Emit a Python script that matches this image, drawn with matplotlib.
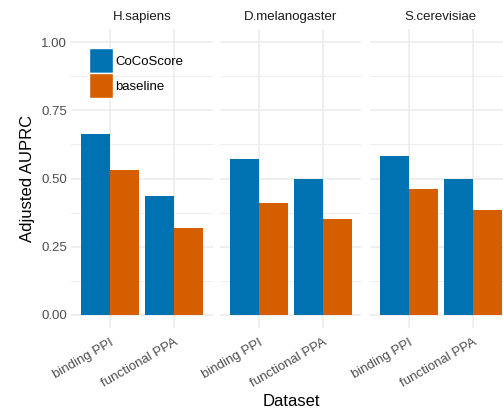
import matplotlib
matplotlib.use("Agg")
import matplotlib.pyplot as plt
import matplotlib.patches as mpatches
import numpy as np

plt.rcParams['font.family'] = ['Liberation Sans', 'DejaVu Sans']

species = ["H.sapiens", "D.melanogaster", "S.cerevisiae"]
datasets = ["binding PPI", "functional PPA"]
methods = ["CoCoScore", "baseline"]
cocoscore = [[0.665, 0.435], [0.570, 0.497], [0.581, 0.497]]
baseline = [[0.530, 0.320], [0.409, 0.350], [0.460, 0.383]]
colors = ["#0072B2", "#D55E00"]
yticks = [0.0, 0.25, 0.5, 0.75, 1.0]
yticklabels = ["0.00", "0.25", "0.50", "0.75", "1.00"]

W, H = 503, 412
fig = plt.figure(figsize=(W / 100, H / 100), dpi=100)

panel_left = [71, 220, 370]
panel_w = 141.5
top_px, bot_px = 28.7, 328.3

grid_c = "#EBEBEB"
axes = []
for i, sp in enumerate(species):
    ax = fig.add_axes([panel_left[i] / W, 1 - bot_px / H, panel_w / W, (bot_px - top_px) / H])
    axes.append(ax)
    x = np.arange(len(datasets))
    bw = 0.45
    ax.bar(x - bw / 2, cocoscore[i], width=bw, color=colors[0], zorder=3)
    ax.bar(x + bw / 2, baseline[i], width=bw, color=colors[1], zorder=3)
    ax.set_xlim(-0.6, 1.6)
    ax.set_ylim(-0.05, 1.05)
    ax.set_xticks(x)
    ax.set_xticklabels(datasets, rotation=30, ha="right", rotation_mode="anchor",
                       fontsize=9.5, color="#4D4D4D")
    ax.set_yticks(yticks)
    ax.set_yticks([0.125, 0.375, 0.625, 0.875], minor=True)
    if i == 0:
        ax.set_yticklabels(yticklabels, fontsize=9.5, color="#4D4D4D")
    else:
        ax.set_yticklabels([])
    ax.tick_params(axis="both", which="both", length=0, pad=3)
    ax.tick_params(axis="x", pad=6)
    ax.grid(True, which="major", color=grid_c, linewidth=1.1, zorder=0)
    ax.grid(True, which="minor", axis="y", color=grid_c, linewidth=0.6, zorder=0)
    for s in ax.spines.values():
        s.set_visible(False)
    ax.set_title(sp, fontsize=9.5, color="#1A1A1A", pad=6)
    ax.set_axisbelow(True)

axes[0].set_ylabel("Adjusted AUPRC", fontsize=12, color="black", labelpad=4)
fig.text(291 / W, 1 - 402 / H, "Dataset", fontsize=12, ha="center", va="center")

handles = [mpatches.Patch(facecolor=c, edgecolor="white", linewidth=1, label=m)
           for c, m in zip(colors, methods)]
leg = fig.legend(handles=handles, loc="upper left", bbox_to_anchor=(89 / W, 1 - 48.5 / H),
                 frameon=False, fontsize=9.5, handlelength=1.85, handleheight=2.5,
                 labelspacing=0.0, handletextpad=0.15, borderpad=0, borderaxespad=0)

fig.savefig("out.png", dpi=100)
